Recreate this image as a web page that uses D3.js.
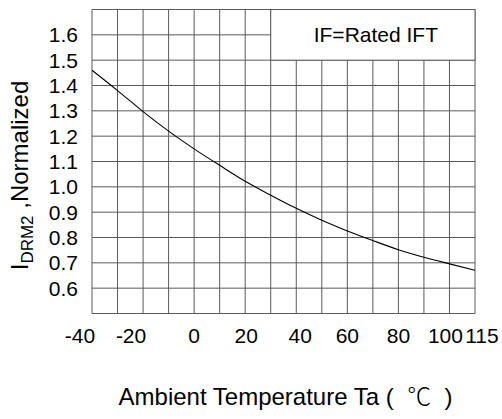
<!DOCTYPE html>
<html>
<head>
    <script src="https://d3js.org/d3.v7.min.js"></script>
    <style>
        body { margin: 0; background: white; }
        text { font-family: "Liberation Sans", Arial, sans-serif; fill: black; }
    </style>
</head>
<body>
    <div id="chart"></div>
    <script>
        // curve
        var temps = [-40, -30, -20, -10, 0, 10, 20, 30, 40, 50, 60, 70, 80, 90, 100, 110];
        var idrm = [1.46, 1.38, 1.297, 1.22, 1.15, 1.085, 1.022, 0.967, 0.915, 0.868, 0.826, 0.788, 0.752, 0.722, 0.696, 0.671];

        // ticks
        var xTicks = [-40, -20, 0, 20, 40, 60, 80, 100, 110];
        var xTickLabels = ["-40", "-20", "0", "20", "40", "60", "80", "100", "115"];
        var yTicks = [0.6, 0.7, 0.8, 0.9, 1.0, 1.1, 1.2, 1.3, 1.4, 1.5, 1.6];
        var legendText = "IF=Rated IFT";

        var W = 502, H = 419;
        var margin = { top: 9.5, left: 92, right: 27, bottom: 105.5 };
        var width = W - margin.left - margin.right;
        var height = H - margin.top - margin.bottom;

        var svg = d3.select("#chart").append("svg")
            .attr("width", W)
            .attr("height", H);
        var g = svg.append("g")
            .attr("transform", "translate(" + margin.left + "," + margin.top + ")");

        var xs = d3.scaleLinear().domain([-40, 110]).range([0, width]);
        var ys = d3.scaleLinear().domain([0.5, 1.7]).range([height, 0]);

        // grid
        var gridColor = "#5a5a5a";
        g.selectAll(".vgrid")
            .data(d3.range(-40, 111, 10))
            .enter().append("line")
            .attr("x1", d => xs(d)).attr("x2", d => xs(d))
            .attr("y1", 0).attr("y2", height)
            .attr("stroke", gridColor).attr("stroke-width", 1);
        g.selectAll(".hgrid")
            .data(d3.range(5, 18).map(d => d / 10))
            .enter().append("line")
            .attr("x1", 0).attr("x2", width)
            .attr("y1", d => ys(d)).attr("y2", d => ys(d))
            .attr("stroke", gridColor).attr("stroke-width", 1);

        // legend box covering the grid in the top right
        g.append("rect")
            .attr("x", xs(30)).attr("y", ys(1.7))
            .attr("width", xs(110) - xs(30)).attr("height", ys(1.5) - ys(1.7))
            .attr("fill", "white").attr("stroke", gridColor).attr("stroke-width", 1);
        g.append("text")
            .attr("x", (xs(30) + xs(110)) / 2 + 3)
            .attr("y", ys(1.6))
            .attr("dy", "0.35em")
            .attr("text-anchor", "middle")
            .style("font-size", "21px")
            .text(legendText);

        // curve
        var line = d3.line()
            .x((d, i) => xs(temps[i]))
            .y(d => ys(d))
            .curve(d3.curveMonotoneX);
        g.append("path")
            .datum(idrm)
            .attr("d", line)
            .attr("fill", "none")
            .attr("stroke", "black")
            .attr("stroke-width", 1.1);

        // y tick labels
        g.selectAll(".ylab")
            .data(yTicks)
            .enter().append("text")
            .attr("x", -14)
            .attr("y", d => ys(d))
            .attr("dy", "0.35em")
            .attr("text-anchor", "end")
            .style("font-size", "21px")
            .text(d => d.toFixed(1));

        // x tick labels (original sheet nudges some of them)
        var xNudge = [-12, -12, 0, 1, 4, 0, 0, -4, 7];
        g.selectAll(".xlab")
            .data(xTicks)
            .enter().append("text")
            .attr("x", (d, i) => xs(d) + xNudge[i])
            .attr("y", height + 29)
            .attr("text-anchor", "middle")
            .style("font-size", "21px")
            .text((d, i) => xTickLabels[i]);

        // x title
        var xt = svg.append("text")
            .attr("x", margin.left + width / 2 + 2)
            .attr("y", 405)
            .attr("text-anchor", "middle")
            .style("font-size", "24px");
        xt.append("tspan").text("Ambient Temperature Ta (\u00a0\u00a0");
        xt.append("tspan").style("font-family", "'Noto Sans CJK SC'").style("font-weight", "300").text("\u2103");
        xt.append("tspan").text("\u00a0\u00a0)");

        // y title
        var yt = svg.append("text")
            .attr("transform", "translate(28," + (margin.top + height / 2 + 14) + ") rotate(-90)")
            .attr("text-anchor", "middle")
            .style("font-size", "24px");
        yt.append("tspan").text("I");
        yt.append("tspan").attr("dy", 5).style("font-size", "17px").text("DRM2");
        yt.append("tspan").attr("dy", -5).text(" ,Normalized");
    </script>
</body>
</html>
